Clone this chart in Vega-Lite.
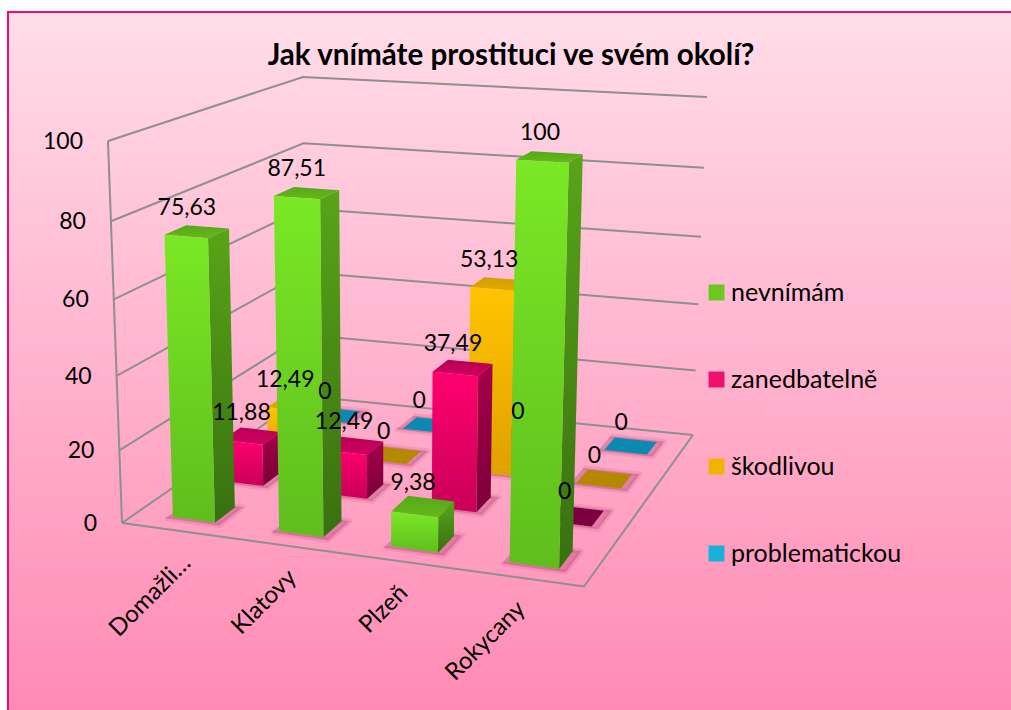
{
"$schema":"https://vega.github.io/schema/vega-lite/v6.json",
"width":1006,"height":702,
"padding":{"left":8,"top":12,"right":0,"bottom":0},
"autosize":{"type":"none"},
"background":"white",
"title":{"text":"Jak vnímáte prostituci ve svém okolí?","font":"Lato","fontSize":29.6,"fontWeight":"bold","color":"#000000","anchor":"middle","offset":-60,"dx":0},
"config":{"view":{"fill":{"gradient":"linear","x1":0,"y1":0,"x2":0,"y2":1,"stops":[{"offset":0,"color":"#ffdde9"},{"offset":1,"color":"#ff8ab3"}]},"stroke":"#ec0c7c","strokeWidth":2},
"legend":{"symbolOpacity":1}},
"datasets":{
"bars":[
{"city":"Domažli…","series":"problematickou","value":0},{"city":"Klatovy","series":"problematickou","value":0},{"city":"Plzeň","series":"problematickou","value":0},{"city":"Rokycany","series":"problematickou","value":0},
{"city":"Domažli…","series":"škodlivou","value":12.49},{"city":"Klatovy","series":"škodlivou","value":0},{"city":"Plzeň","series":"škodlivou","value":53.13},{"city":"Rokycany","series":"škodlivou","value":0},
{"city":"Domažli…","series":"zanedbatelně","value":11.88},{"city":"Klatovy","series":"zanedbatelně","value":12.49},{"city":"Plzeň","series":"zanedbatelně","value":37.49},{"city":"Rokycany","series":"zanedbatelně","value":0},
{"city":"Domažli…","series":"nevnímám","value":75.63},{"city":"Klatovy","series":"nevnímám","value":87.51},{"city":"Plzeň","series":"nevnímám","value":9.38},{"city":"Rokycany","series":"nevnímám","value":100}
],
"ticks":[{"tick":0},{"tick":20},{"tick":40},{"tick":60},{"tick":80},{"tick":100}],
"cities":[{"city":"Domažli…"},{"city":"Klatovy"},{"city":"Plzeň"},{"city":"Rokycany"}]
},
"encoding":{
"x":{"field":"px","type":"quantitative","scale":{"domain":[8,1014],"nice":false,"zero":false},"axis":null},
"y":{"field":"py","type":"quantitative","scale":{"domain":[714,12],"nice":false,"zero":false},"axis":null}
},
"layer":[
{"data":{"name":"ticks"},
"transform":[
{"calculate":"[[0,0],[0,1],[1,1]]","as":"pt"},{"flatten":["pt"]},
{"calculate":"datum.pt[0]","as":"u"},{"calculate":"datum.pt[1]","as":"v"},{"calculate":"datum.tick/100","as":"w"},{"calculate":"datum.pt[0]+datum.pt[1]","as":"i"},
{"calculate":"(122+400.7*datum.u+250.2*datum.v-20.5*datum.w)/(1-0.105*datum.u+0.2204*datum.v-0.06*datum.w)-6*datum.u*datum.w","as":"px"},
{"calculate":"(523+1.9*datum.u-39.7*datum.v-389*datum.w)/(1-0.105*datum.u+0.2204*datum.v-0.06*datum.w)+datum.w*(-1.6-2.7*datum.v+10.2*datum.u)","as":"py"}],
"mark":{"type":"line","stroke":"#8f8f8f","strokeWidth":2},
"encoding":{"detail":{"field":"tick"},"order":{"field":"i"}}},
{"data":{"name":"ticks"},
"transform":[
{"calculate":"0","as":"u"},{"calculate":"0","as":"v"},{"calculate":"datum.tick/100","as":"w"},
{"calculate":"(122+400.7*datum.u+250.2*datum.v-20.5*datum.w)/(1-0.105*datum.u+0.2204*datum.v-0.06*datum.w)-6*datum.u*datum.w","as":"px"},
{"calculate":"(523+1.9*datum.u-39.7*datum.v-389*datum.w)/(1-0.105*datum.u+0.2204*datum.v-0.06*datum.w)+datum.w*(-1.6-2.7*datum.v+10.2*datum.u)","as":"py"}],
"mark":{"type":"line","stroke":"#8f8f8f","strokeWidth":2},
"encoding":{"order":{"field":"tick"}}},
{"data":{"name":"ticks"},
"transform":[
{"filter":"datum.tick==0"},
{"calculate":"[[0,0],[1,0],[1,1]]","as":"pt"},{"flatten":["pt"]},
{"calculate":"datum.pt[0]","as":"u"},{"calculate":"datum.pt[1]","as":"v"},{"calculate":"0","as":"w"},{"calculate":"datum.pt[0]+datum.pt[1]","as":"i"},
{"calculate":"(122+400.7*datum.u+250.2*datum.v-20.5*datum.w)/(1-0.105*datum.u+0.2204*datum.v-0.06*datum.w)-6*datum.u*datum.w","as":"px"},
{"calculate":"(523+1.9*datum.u-39.7*datum.v-389*datum.w)/(1-0.105*datum.u+0.2204*datum.v-0.06*datum.w)+datum.w*(-1.6-2.7*datum.v+10.2*datum.u)","as":"py"}],
"mark":{"type":"line","stroke":"#8f8f8f","strokeWidth":2},
"encoding":{"order":{"field":"i"}}},
{"data":{"name":"bars"},
"transform":[
{"calculate":"indexof(['Domažli…','Klatovy','Plzeň','Rokycany'],datum.city)","as":"ci"},
{"calculate":"indexof(['nevnímám','zanedbatelně','škodlivou','problematickou'],datum.series)","as":"si"},
{"calculate":"0.086+0.2487*datum.ci","as":"u0"},{"calculate":"0.07+0.25*datum.si","as":"v0"},
{"calculate":"datum.city+'|'+datum.series","as":"poly"},
{"calculate":"[0,1,2,3]","as":"i"},{"flatten":["i"]},
{"calculate":"(datum.i==0||datum.i==3)?datum.u0-0.012:datum.u0+0.116","as":"u"},
{"calculate":"datum.i<2?datum.v0-0.012:datum.v0+0.108","as":"v"},
{"calculate":"0","as":"w"},
{"calculate":"(122+400.7*datum.u+250.2*datum.v-20.5*datum.w)/(1-0.105*datum.u+0.2204*datum.v-0.06*datum.w)-6*datum.u*datum.w","as":"px"},
{"calculate":"(523+1.9*datum.u-39.7*datum.v-389*datum.w)/(1-0.105*datum.u+0.2204*datum.v-0.06*datum.w)+datum.w*(-1.6-2.7*datum.v+10.2*datum.u)","as":"py"}],
"mark":{"type":"line","filled":true,"fill":"#a02a60","stroke":"#a02a60","strokeWidth":5,"strokeJoin":"round","fillOpacity":0.3,"strokeOpacity":0.12},
"encoding":{"detail":{"field":"poly"},"order":{"field":"i"}}},
{"data":{"name":"bars"},
"transform":[
{"calculate":"indexof(['Domažli…','Klatovy','Plzeň','Rokycany'],datum.city)","as":"ci"},
{"calculate":"indexof(['nevnímám','zanedbatelně','škodlivou','problematickou'],datum.series)","as":"si"},
{"calculate":"0.086+0.2487*datum.ci","as":"u0"},{"calculate":"datum.u0+0.1","as":"u1"},
{"calculate":"0.07+0.25*datum.si","as":"v0"},{"calculate":"datum.v0+0.1","as":"v1"},
{"calculate":"datum.value/100","as":"h"},
{"calculate":"datum.value==0?['flat']:['top','side','front']","as":"face"},{"flatten":["face"]},
{"calculate":"({front:[['#7ae825','#5fbd1d'],['#ff0070','#c90057'],['#ffc400','#e0a000'],['#1ab0dc','#0a8ab2']],side:[['#57a518','#387010'],['#a5004a','#7a0038'],['#c09000','#a07800'],['#0a8ab2','#0a6a90']],top:[['#55a818','#66b81c'],['#b80055','#d00060'],['#d0a000','#e0aa00'],['#0a8ab2','#0a8ab2']],flat:[['#5fb51a','#5fb51a'],['#7a0040','#7a0040'],['#b48800','#b48800'],['#0a8ab2','#0a8ab2']]})[datum.face][datum.si]","as":"cols"},
{"calculate":"[0,1,2,3]","as":"i"},{"flatten":["i"]},
{"calculate":"datum.face=='side'?datum.u1:((datum.i==0||datum.i==3)?datum.u0:datum.u1)","as":"u"},
{"calculate":"datum.face=='front'?datum.v0:(datum.face=='side'?((datum.i==0||datum.i==3)?datum.v0:datum.v1):(datum.i<2?datum.v0:datum.v1))","as":"v"},
{"calculate":"(datum.face=='front'||datum.face=='side')?(datum.i<2?0:datum.h):datum.h","as":"w"},
{"calculate":"datum.city+'|'+datum.series+'|'+datum.face","as":"poly"},
{"calculate":"(122+400.7*datum.u+250.2*datum.v-20.5*datum.w)/(1-0.105*datum.u+0.2204*datum.v-0.06*datum.w)-6*datum.u*datum.w","as":"px"},
{"calculate":"(523+1.9*datum.u-39.7*datum.v-389*datum.w)/(1-0.105*datum.u+0.2204*datum.v-0.06*datum.w)+datum.w*(-1.6-2.7*datum.v+10.2*datum.u)","as":"py"}],
"mark":{"type":"line","filled":true,"strokeWidth":0,"fill":{"expr":"{gradient:'linear',x1:0,y1:0,x2:0,y2:1,stops:[{offset:0,color:datum.cols[0]},{offset:1,color:datum.cols[1]}]}"}},
"encoding":{
"detail":{"field":"poly"},
"order":{"field":"i"}}},
{"data":{"name":"bars"},
"transform":[
{"calculate":"indexof(['Domažli…','Klatovy','Plzeň','Rokycany'],datum.city)","as":"ci"},
{"calculate":"indexof(['nevnímám','zanedbatelně','škodlivou','problematickou'],datum.series)","as":"si"},
{"calculate":"0.136+0.2487*datum.ci","as":"u"},{"calculate":"0.115+0.25*datum.si","as":"v"},{"calculate":"datum.value/100","as":"w"},
{"calculate":"replace(''+datum.value,'.',',')","as":"lab"},
{"calculate":"(122+400.7*datum.u+250.2*datum.v-20.5*datum.w)/(1-0.105*datum.u+0.2204*datum.v-0.06*datum.w)-6*datum.u*datum.w","as":"px"},
{"calculate":"(523+1.9*datum.u-39.7*datum.v-389*datum.w)/(1-0.105*datum.u+0.2204*datum.v-0.06*datum.w)+datum.w*(-1.6-2.7*datum.v+10.2*datum.u)","as":"py"}],
"mark":{"type":"text","font":"Lato","fontSize":23,"color":"#000000","dx":-9,"dy":-24,"align":"center","baseline":"middle"},
"encoding":{"text":{"field":"lab"}}},
{"data":{"name":"ticks"},
"transform":[
{"calculate":"0","as":"u"},{"calculate":"0","as":"v"},{"calculate":"datum.tick/100","as":"w"},
{"calculate":"(122+400.7*datum.u+250.2*datum.v-20.5*datum.w)/(1-0.105*datum.u+0.2204*datum.v-0.06*datum.w)-6*datum.u*datum.w","as":"px"},
{"calculate":"(523+1.9*datum.u-39.7*datum.v-389*datum.w)/(1-0.105*datum.u+0.2204*datum.v-0.06*datum.w)+datum.w*(-1.6-2.7*datum.v+10.2*datum.u)","as":"py"}],
"mark":{"type":"text","font":"Lato","fontSize":23,"color":"#000000","dx":-25,"dy":1,"align":"right","baseline":"middle"},
"encoding":{"text":{"field":"tick"}}},
{"data":{"name":"cities"},
"transform":[
{"calculate":"indexof(['Domažli…','Klatovy','Plzeň','Rokycany'],datum.city)","as":"ci"},
{"calculate":"0.13+0.242*datum.ci","as":"u"},{"calculate":"0","as":"v"},{"calculate":"0","as":"w"},
{"calculate":"(122+400.7*datum.u+250.2*datum.v-20.5*datum.w)/(1-0.105*datum.u+0.2204*datum.v-0.06*datum.w)-6*datum.u*datum.w","as":"px"},
{"calculate":"(523+1.9*datum.u-39.7*datum.v-389*datum.w)/(1-0.105*datum.u+0.2204*datum.v-0.06*datum.w)+datum.w*(-1.6-2.7*datum.v+10.2*datum.u)","as":"py"}],
"mark":{"type":"text","font":"Lato","fontSize":24,"color":"#000000","angle":315,"dx":-13,"dy":28,"align":"right","baseline":"middle"},
"encoding":{"text":{"field":"city"}}},
{"data":{"name":"bars"},
"transform":[{"calculate":"300","as":"px"},{"calculate":"300","as":"py"}],
"mark":{"type":"point","filled":true,"opacity":0,"shape":"square"},
"encoding":{"color":{"field":"series","type":"nominal","scale":{"domain":["nevnímám","zanedbatelně","škodlivou","problematickou"],"range":["#6cc81e","#f0106e","#f0b400","#1ab0dc"]},
"legend":{"title":null,"orient":"none","legendX":696,"legendY":268,"symbolType":"square","symbolSize":256,"symbolStrokeWidth":0,"symbolOpacity":1,"labelFont":"Lato","labelFontSize":25,"labelColor":"#000000","labelOffset":2,"labelLimit":300,"rowPadding":61}}}}
]
}
